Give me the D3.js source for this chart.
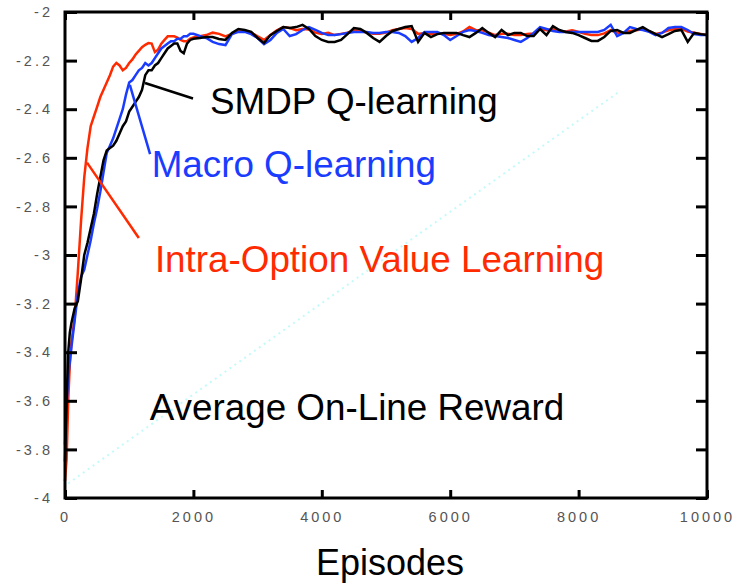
<!DOCTYPE html>
<html>
<head>
<meta charset="utf-8">
<script src="https://cdn.jsdelivr.net/npm/d3@7/dist/d3.min.js"></script>
<style>
  html, body { margin: 0; padding: 0; background: #fff; }
  svg { display: block; }
  .tick text { font-family: "Liberation Sans", Arial, sans-serif; }
</style>
</head>
<body>
<svg id="chart" width="747" height="584"></svg>
<script>
// Episode grid: fine steps during the learning phase, coarser afterwards
const episodes = [
  0, 25, 50, 75, 100, 150, 200, 250, 300, 350, 400, 450, 500, 550, 600, 650, 700, 750, 800, 850,
  900, 950, 1000, 1050, 1100, 1150, 1200, 1250, 1300, 1350, 1400, 1450, 1500, 1550, 1600, 1650,
  1700, 1750, 1800, 1850, 1900, 1950, 2000,
  2100, 2200, 2300, 2400, 2500, 2600, 2700, 2800, 2900, 3000, 3100, 3200, 3300, 3400, 3500,
  3600, 3700, 3800, 3900, 4000, 4100, 4200, 4300, 4400, 4500, 4600, 4700, 4800, 4900, 5000,
  5100, 5200, 5300, 5400, 5500, 5600, 5700, 5800, 5900, 6000, 6100, 6200, 6300, 6400, 6500,
  6600, 6700, 6800, 6900, 7000, 7100, 7200, 7300, 7400, 7500, 7600, 7700, 7800, 7900, 8000,
  8100, 8200, 8300, 8400, 8500, 8600, 8700, 8800, 8900, 9000, 9100, 9200, 9300, 9400, 9500,
  9600, 9700, 9800, 9900, 10000
];

// Average on-line reward per method
const intraOption = [
  -3.93, -3.84, -3.60, -3.45, -3.36, -3.26, -3.07, -2.86, -2.68, -2.56, -2.47, -2.43, -2.39, -2.35,
  -2.32, -2.29, -2.26, -2.225, -2.21, -2.22, -2.24, -2.23, -2.21, -2.195, -2.175, -2.16, -2.145,
  -2.135, -2.128, -2.13, -2.165, -2.155, -2.13, -2.115, -2.10, -2.10, -2.10, -2.105, -2.115, -2.12,
  -2.12, -2.11, -2.105,
  -2.10, -2.095, -2.085, -2.09, -2.10, -2.09, -2.08, -2.08, -2.085, -2.10, -2.115, -2.095, -2.075,
  -2.062, -2.066, -2.075, -2.07, -2.072, -2.085, -2.09, -2.086, -2.095, -2.09, -2.085, -2.075,
  -2.078, -2.085, -2.09, -2.09, -2.085, -2.075, -2.07, -2.066, -2.07, -2.09, -2.086, -2.09, -2.088,
  -2.09, -2.095, -2.09, -2.08, -2.062, -2.075, -2.075, -2.085, -2.095, -2.09, -2.09, -2.095, -2.095,
  -2.09, -2.088, -2.07, -2.075, -2.07, -2.078, -2.08, -2.075, -2.082, -2.09, -2.095, -2.095, -2.088,
  -2.075, -2.085, -2.085, -2.078, -2.075, -2.07, -2.08, -2.09, -2.085, -2.075, -2.07, -2.068, -2.08,
  -2.085, -2.09, -2.095
];

const macroQ = [
  -3.78, -3.62, -3.50, -3.44, -3.38, -3.27, -3.16, -3.09, -3.06, -3.00, -2.94, -2.87, -2.81, -2.74,
  -2.66, -2.58, -2.55, -2.52, -2.48, -2.44, -2.40, -2.34, -2.29, -2.28, -2.26, -2.24, -2.23, -2.21,
  -2.22, -2.21, -2.19, -2.17, -2.15, -2.14, -2.13, -2.12, -2.12, -2.11, -2.11, -2.10, -2.10, -2.09,
  -2.09,
  -2.099, -2.107, -2.123, -2.132, -2.136, -2.091, -2.082, -2.082, -2.091, -2.107, -2.132, -2.115,
  -2.086, -2.070, -2.099, -2.091, -2.074, -2.062, -2.074, -2.086, -2.095, -2.095, -2.091, -2.086,
  -2.082, -2.082, -2.082, -2.086, -2.086, -2.082, -2.082, -2.086, -2.099, -2.123, -2.107, -2.082,
  -2.082, -2.082, -2.095, -2.115, -2.099, -2.082, -2.074, -2.078, -2.086, -2.095, -2.099, -2.103,
  -2.107, -2.115, -2.123, -2.107, -2.086, -2.062, -2.070, -2.078, -2.082, -2.082, -2.082, -2.082,
  -2.082, -2.082, -2.082, -2.074, -2.053, -2.099, -2.086, -2.062, -2.070, -2.074, -2.082, -2.095,
  -2.086, -2.066, -2.062, -2.062, -2.074, -2.091, -2.095, -2.095
];

const smdpQ = [
  -3.85, -3.60, -3.40, -3.32, -3.28, -3.22, -3.19, -3.10, -3.00, -2.95, -2.89, -2.83, -2.75, -2.68,
  -2.61, -2.57, -2.56, -2.55, -2.53, -2.50, -2.47, -2.45, -2.41, -2.39, -2.37, -2.35, -2.32, -2.26,
  -2.24, -2.24, -2.22, -2.21, -2.19, -2.17, -2.15, -2.14, -2.13, -2.13, -2.16, -2.17, -2.13, -2.115,
  -2.11,
  -2.107, -2.103, -2.103, -2.111, -2.115, -2.086, -2.070, -2.074, -2.082, -2.107, -2.128, -2.095,
  -2.078, -2.062, -2.066, -2.062, -2.053, -2.070, -2.099, -2.115, -2.123, -2.123, -2.115, -2.091,
  -2.066, -2.070, -2.086, -2.107, -2.123, -2.099, -2.078, -2.070, -2.062, -2.058, -2.123, -2.086,
  -2.103, -2.091, -2.086, -2.086, -2.086, -2.095, -2.103, -2.086, -2.066, -2.086, -2.103, -2.074,
  -2.095, -2.086, -2.086, -2.099, -2.099, -2.070, -2.095, -2.058, -2.074, -2.082, -2.086, -2.095,
  -2.107, -2.119, -2.119, -2.103, -2.078, -2.074, -2.086, -2.086, -2.074, -2.062, -2.078, -2.091,
  -2.103, -2.091, -2.078, -2.074, -2.123, -2.086, -2.091, -2.095
];

const xTicks = [0, 2000, 4000, 6000, 8000, 10000];
const xTickLabels = ["0", "2000", "4000", "6000", "8000", "10000"];
const yTicks = [-4, -3.8, -3.6, -3.4, -3.2, -3, -2.8, -2.6, -2.4, -2.2, -2];
const yTickLabels = ["-4", "-3.8", "-3.6", "-3.4", "-3.2", "-3", "-2.8", "-2.6", "-2.4", "-2.2", "-2"];

// Curve names with the spot each label sits at and the curve point its leader starts from
const seriesNames = ["Intra-Option Value Learning", "Macro Q-learning", "SMDP Q-learning"];
const seriesColors = ["#ff2a00", "#1a3cff", "#000000"];
const labelAnchors = [[1400, -3.07], [1350, -2.68], [2260, -2.42]];
const leaderFrom = [[343, -2.62], [1010, -2.30], [1246, -2.292]];
const leaderTo = [[1150, -2.93], [1325, -2.585], [1994, -2.356]];
const captionText = "Average On-Line Reward";
const captionAnchor = [1320, -3.68];
const faintGuide = [[50, -3.94], [8620, -2.33]];

const svg = d3.select("#chart");
const margin = { left: 65, right: 40, top: 12, bottom: 86 };
const W = 747, H = 584;

const x = d3.scaleLinear().domain([0, 10000]).range([margin.left, W - margin.right]);
const y = d3.scaleLinear().domain([-4, -2]).range([H - margin.bottom, margin.top]);

const font = '"Liberation Sans", Arial, Helvetica, sans-serif';
const labelSize = 36.8;

// faint cyan dotted diagonal
svg.append("line")
  .attr("x1", x(faintGuide[0][0])).attr("y1", y(faintGuide[0][1]))
  .attr("x2", x(faintGuide[1][0])).attr("y2", y(faintGuide[1][1]))
  .attr("stroke", "#c4fafa").attr("stroke-width", 2)
  .attr("stroke-dasharray", "2,4");

// curves
const allSeries = [intraOption, macroQ, smdpQ];
const line = d3.line().x((d, i) => x(episodes[i])).y(d => y(d));
allSeries.forEach((vals, k) => {
  svg.append("path")
    .datum(vals)
    .attr("d", line)
    .attr("fill", "none")
    .attr("stroke", seriesColors[k])
    .attr("stroke-width", 2.5)
    .attr("stroke-linejoin", "miter");
});

// leader lines and labels
seriesNames.forEach((name, k) => {
  svg.append("line")
    .attr("x1", x(leaderFrom[k][0])).attr("y1", y(leaderFrom[k][1]))
    .attr("x2", x(leaderTo[k][0])).attr("y2", y(leaderTo[k][1]))
    .attr("stroke", seriesColors[k]).attr("stroke-width", 2.5);
  svg.append("text")
    .attr("x", x(labelAnchors[k][0])).attr("y", y(labelAnchors[k][1]))
    .attr("font-family", font).attr("font-size", labelSize)
    .attr("fill", seriesColors[k])
    .text(name);
});

svg.append("text")
  .attr("x", x(captionAnchor[0])).attr("y", y(captionAnchor[1]))
  .attr("font-family", font).attr("font-size", labelSize)
  .attr("fill", "#000")
  .text(captionText);

// axes with inward ticks on all four sides
const tickColor = "#000";
const yLeft = svg.append("g")
  .attr("transform", `translate(${margin.left},0)`)
  .call(d3.axisLeft(y).tickValues(yTicks).tickSizeInner(-12).tickSizeOuter(0).tickPadding(12)
    .tickFormat((d, i) => yTickLabels[i]));
const yRight = svg.append("g")
  .attr("transform", `translate(${W - margin.right},0)`)
  .call(d3.axisRight(y).tickValues(yTicks).tickSizeInner(-11).tickSizeOuter(0).tickFormat(""));
const xBottom = svg.append("g")
  .attr("transform", `translate(0,${H - margin.bottom})`)
  .call(d3.axisBottom(x).tickValues(xTicks).tickSizeInner(-8).tickSizeOuter(0).tickPadding(14)
    .tickFormat((d, i) => xTickLabels[i]));
const xTop = svg.append("g")
  .attr("transform", `translate(0,${margin.top})`)
  .call(d3.axisTop(x).tickValues(xTicks).tickSizeInner(-8).tickSizeOuter(0).tickFormat(""));

[yLeft, yRight, xBottom, xTop].forEach(g => {
  g.select(".domain").remove();
  g.selectAll(".tick line").attr("stroke", tickColor).attr("stroke-width", 3);
  g.selectAll(".tick text")
    .attr("fill", "#555")
    .attr("font-size", 14.5)
    .attr("letter-spacing", "3px");
});

// frame
svg.append("rect")
  .attr("x", x(0)).attr("y", y(-2))
  .attr("width", x(10000) - x(0)).attr("height", y(-4) - y(-2))
  .attr("fill", "none").attr("stroke", "#000").attr("stroke-width", 3);

// x-axis title
svg.append("text")
  .attr("x", (x(0) + x(10000)) / 2 + 4).attr("y", 575)
  .attr("text-anchor", "middle")
  .attr("font-family", font).attr("font-size", 36)
  .attr("fill", "#000")
  .text("Episodes");
</script>
</body>
</html>
